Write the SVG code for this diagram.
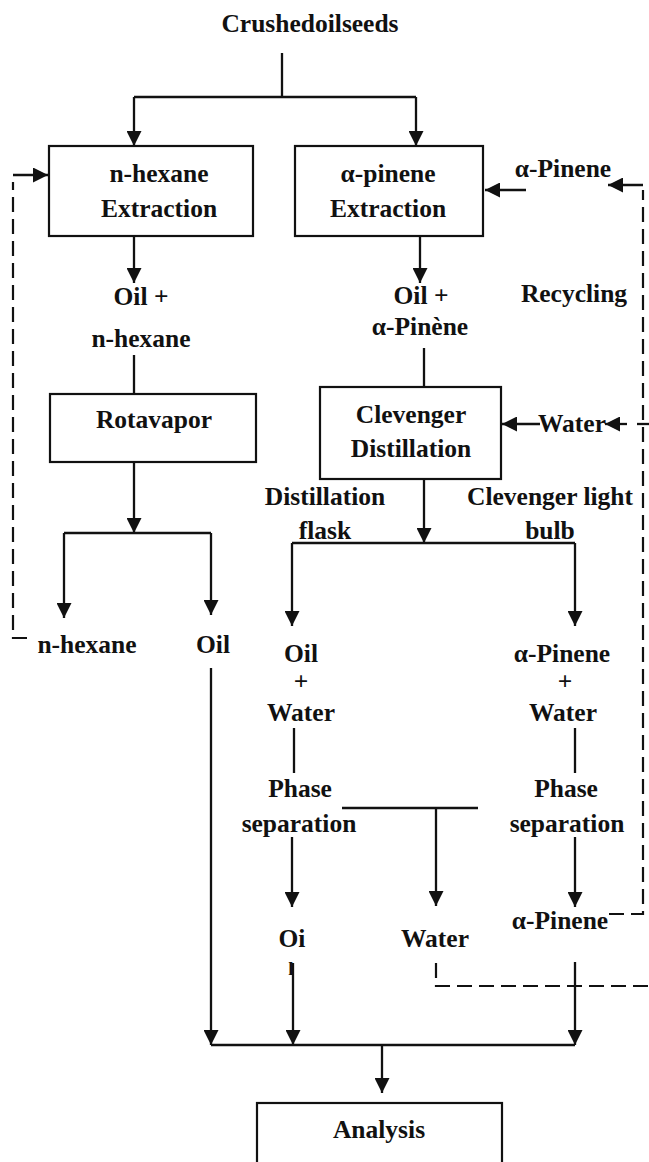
<svg xmlns="http://www.w3.org/2000/svg" width="649" height="1162" viewBox="0 0 649 1162">
<defs>
<style>
text{font-family:"Liberation Serif","Times New Roman",serif;font-weight:bold;font-size:25.5px;fill:#111;text-anchor:middle}
.box{fill:#fff;stroke:#111;stroke-width:2.2}
.ln{fill:none;stroke:#111;stroke-width:2.3}
.ar{fill:none;stroke:#111;stroke-width:2.3;marker-end:url(#ah)}
.da{fill:none;stroke:#111;stroke-width:2.2;stroke-dasharray:15 7}
</style>
<marker id="ah" viewBox="0 0 15 15" refX="15" refY="7.5" markerWidth="15" markerHeight="15" markerUnits="userSpaceOnUse" orient="auto">
<path d="M0,0 L15,7.5 L0,15 z" fill="#111"/>
</marker>
</defs>
<rect width="649" height="1162" fill="#fff"/>
<g id="title"><text x="310" y="32">Crushedoilseeds</text></g>
<g id="hexane-extraction"><rect class="box" x="49" y="146" width="204" height="90"/><text x="159" y="182">n-hexane</text><text x="159" y="217">Extraction</text></g>
<g id="pinene-extraction"><rect class="box" x="295" y="146" width="188" height="90"/><text x="388" y="182">α-pinene</text><text x="388" y="217">Extraction</text></g>
<g id="pinene-in"><text x="563" y="177">α-Pinene</text></g>
<g id="recycling"><text x="574" y="302">Recycling</text></g>
<g id="oil-hexane"><text x="141" y="305">Oil +</text><text x="141" y="347">n-hexane</text></g>
<g id="oil-pinene"><text x="421" y="304">Oil +</text><text x="420" y="335">α-Pinène</text></g>
<g id="rotavapor"><rect class="box" x="50" y="394" width="206" height="68"/><text x="154" y="428">Rotavapor</text></g>
<g id="clevenger"><rect class="box" x="320" y="387" width="181" height="92"/><text x="411" y="423">Clevenger</text><text x="411" y="457">Distillation</text></g>
<g id="water-in"><text x="572" y="432">Water</text></g>
<g id="flask-label"><text x="325" y="505">Distillation</text><text x="325" y="539">flask</text></g>
<g id="bulb-label"><text x="550" y="505">Clevenger light</text><text x="550" y="539">bulb</text></g>
<g id="hexane-out"><text x="87" y="653">n-hexane</text></g>
<g id="oil-out"><text x="213" y="653">Oil</text></g>
<g id="oil-water"><text x="301" y="662">Oil</text><text x="301" y="690">+</text><text x="301" y="721">Water</text></g>
<g id="pinene-water"><text x="562" y="662">α-Pinene</text><text x="565" y="690">+</text><text x="563" y="721">Water</text></g>
<g id="phase-left"><text x="300" y="797">Phase</text><text x="299" y="832">separation</text></g>
<g id="phase-right"><text x="566" y="797">Phase</text><text x="567" y="832">separation</text></g>
<g id="oil-final"><text x="292" y="947">Oi</text><text x="291" y="975" style="font-size:19px">l</text></g>
<g id="water-out"><text x="435" y="947">Water</text></g>
<g id="pinene-out"><text x="560" y="929">α-Pinene</text></g>
<g id="analysis"><rect class="box" x="257" y="1103" width="245" height="80"/><text x="379" y="1138">Analysis</text></g>
<g id="connectors">
<path class="ln" d="M282,53 V97 M134,97 H416"/>
<path class="ar" d="M134,97 V146"/>
<path class="ar" d="M416,97 V146"/>
<path class="ar" d="M134,236 V283"/>
<path class="ar" d="M420,236 V283"/>
<path class="ln" d="M134,355 V394"/>
<path class="ln" d="M424,348 V387"/>
<path class="ar" d="M134,462 V533"/>
<path class="ln" d="M64,533 H211"/>
<path class="ar" d="M64,533 V618"/>
<path class="ar" d="M211,533 V615"/>
<path class="ar" d="M424,479 V543"/>
<path class="ln" d="M292,543 H575"/>
<path class="ar" d="M292,543 V626"/>
<path class="ar" d="M575,543 V626"/>
<path class="ar" d="M211,668 V1045"/>
<path class="ln" d="M294,728 V773"/>
<path class="ln" d="M575,728 V773"/>
<path class="ar" d="M292,837 V907"/>
<path class="ar" d="M575,837 V907"/>
<path class="ln" d="M342,808 H478"/>
<path class="ar" d="M436,808 V906"/>
<path class="ar" d="M293,963 V1045"/>
<path class="ar" d="M575,962 V1045"/>
<path class="ln" d="M211,1045 H575"/>
<path class="ar" d="M382,1045 V1093"/>
<path class="ar" d="M526,190 H485"/>
<path class="ar" d="M540,424 H502"/>
<path class="ar" d="M13,175 H48"/>
<path class="ar" d="M643,185 H608"/>
<path class="ar" d="M627,424 H605"/>
<path class="ln" d="M637,424 H649"/>
<path class="da" d="M27,638 H13 V182"/>
<path class="da" d="M609,914 H643 V190"/>
<path class="da" d="M436,963 V986 H649"/>
</g>
</svg>
